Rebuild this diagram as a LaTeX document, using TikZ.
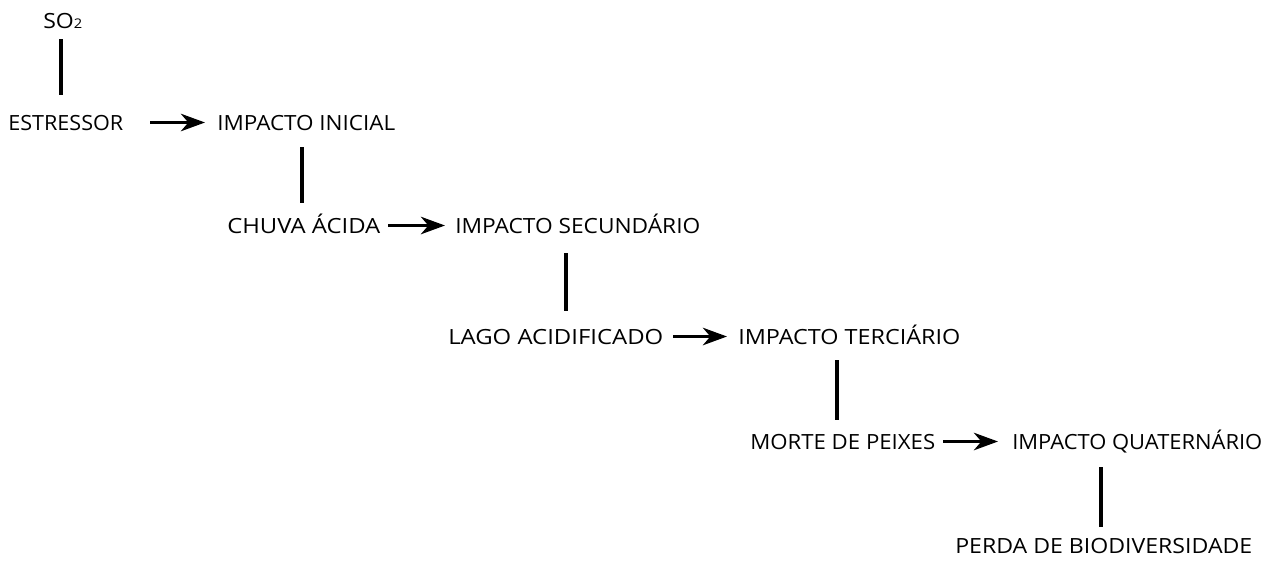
\documentclass[tikz,border=0pt]{standalone}
\usepackage{fontspec}
\setmainfont{Open Sans}
\usetikzlibrary{arrows.meta}
\newcommand\wtxt[2]{\resizebox{#1}{\height}{#2}}
\begin{document}
\begin{tikzpicture}[x=0.75pt,y=-0.75pt,
  lbl/.style={inner sep=0pt, anchor=west, text height=11.25pt, text depth=0pt,
    font=\fontsize{15.7}{18}\selectfont},
  vline/.style={line width=3pt},
  arr/.style={line width=2.8pt, -{Stealth[length=18pt,width=13pt,inset=5.5pt]}}]
\useasboundingbox (0,0) rectangle (1288,565);
\node[lbl] (so2) at (43,20.5) {\wtxt{29.25pt}{SO{\fontsize{10}{12}\selectfont\raisebox{-0.5pt}{2}}}};
\node[lbl] (estressor) at (8,122.5) {\wtxt{86.25pt}{ESTRESSOR}};
\node[lbl] (inicial) at (217,122.5) {\wtxt{133.5pt}{IMPACTO INICIAL}};
\node[lbl] (chuva) at (227,225.5) {\wtxt{114.75pt}{CHUVA ÁCIDA}};
\node[lbl] (secundario) at (455,225.5) {\wtxt{183.75pt}{IMPACTO SECUNDÁRIO}};
\node[lbl] (lago) at (448,336.5) {\wtxt{161.25pt}{LAGO ACIDIFICADO}};
\node[lbl] (terciario) at (738,336.5) {\wtxt{166.5pt}{IMPACTO TERCIÁRIO}};
\node[lbl] (morte) at (750,441.5) {\wtxt{138.75pt}{MORTE DE PEIXES}};
\node[lbl] (quaternario) at (1012,441.5) {\wtxt{187.5pt}{IMPACTO QUATERNÁRIO}};
\node[lbl] (perda) at (955,545.5) {\wtxt{222.75pt}{PERDA DE BIODIVERSIDADE}};

\draw[vline, shorten <=8.25pt, shorten >=15pt] (so2.south -| 61,0) -- (estressor.north -| 61,0);
\draw[vline, shorten <=12.75pt, shorten >=11.25pt] (inicial.south -| 302,0) -- (chuva.north -| 302,0);
\draw[vline, shorten <=15pt, shorten >=13.5pt] (secundario.south -| 566,0) -- (lago.north -| 566,0);
\draw[vline, shorten <=12pt, shorten >=10.5pt] (terciario.south -| 837,0) -- (morte.north -| 837,0);
\draw[vline, shorten <=13.5pt, shorten >=8.25pt] (quaternario.south -| 1101,0) -- (perda.north -| 1101,0);

\draw[arr] (estressor.east -| 150,0) -- (inicial.west -| 205,0);
\draw[arr] (chuva.east -| 388,0) -- (secundario.west -| 445,0);
\draw[arr] (lago.east -| 673,0) -- (terciario.west -| 727,0);
\draw[arr] (morte.east -| 943,0) -- (quaternario.west -| 998,0);
\end{tikzpicture}
\end{document}
